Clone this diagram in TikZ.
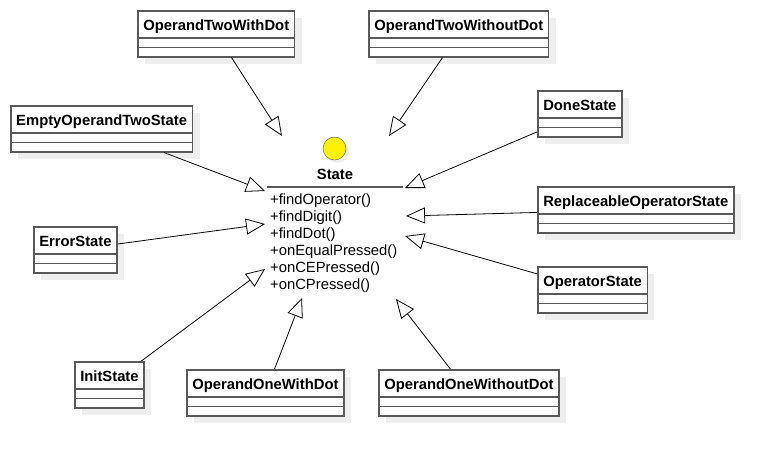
\documentclass[tikz,border=0pt]{standalone}
\usepackage{fontspec}
\setmainfont{Liberation Sans}
\usetikzlibrary{positioning,arrows.meta,shadows}

\definecolor{boxline}{HTML}{595959}
\definecolor{shadowgray}{HTML}{EEEEEE}

\begin{document}
\begin{tikzpicture}[x=1pt, y=-1pt, >={Triangle[open,length=19pt,width=16pt]},
	every class/.style={draw=boxline, line width=1.5pt, fill=white, anchor=north west,
		font=\fontsize{14.8}{17}\selectfont\bfseries, inner xsep=5.5pt, inner ysep=8pt,
		text height=11.3pt, text depth=18.7pt,
		drop shadow={shadow xshift=7pt, shadow yshift=-7pt, fill=shadowgray, opacity=1},
		path picture={
			\draw [boxline, line width=1.5pt]
			([yshift=-27pt]path picture bounding box.north west) -- ([yshift=-27pt]path picture bounding box.north east)
			([yshift=-36.5pt]path picture bounding box.north west) -- ([yshift=-36.5pt]path picture bounding box.north east);
		}},
	every link/.style={line width=0.8pt}]
	
	\useasboundingbox (0,0) rectangle (774,456);
	
	\foreach \n/\t/\x/\y in {twodot/OperandTwoWithDot/137/10, twonodot/OperandTwoWithoutDot/368/10,
		emptytwo/EmptyOperandTwoState/10/105, done/DoneState/537/90,
		replace/ReplaceableOperatorState/537/186, operator/OperatorState/537/266,
		error/ErrorState/33/226, init/InitState/74/361,
		onedot/OperandOneWithDot/186/369, onenodot/OperandOneWithoutDot/378/369}
	\node [every class/.try] (\n) at (\x,\y) {\t};
	
	% the State class
	\node [circle, draw=boxline, fill=yellow, minimum size=23pt, inner sep=0pt,
		drop shadow={shadow xshift=3pt, shadow yshift=-3pt, fill=shadowgray, opacity=1}]
	(state-icon) at (334.5,148.5) {};
	\node [anchor=base, font=\fontsize{14.8}{17}\selectfont\bfseries] (state-name) at (335,179) {State};
	\draw [boxline, line width=1.5pt] (267,187) -- (403,187);
	\node [anchor=north west, align=left, inner sep=0pt, font=\fontsize{14.8}{17}\selectfont]
	(state-ops) at (270,194) {+findOperator()\\+findDigit()\\+findDot()\\+onEqualPressed()\\+onCEPressed()\\+onCPressed()};
	
	\foreach \n/\x/\y in {twodot/282/136, twonodot/389/136, emptytwo/265/191, done/405/188,
		replace/406/216, operator/405/236, error/265/224, init/265/269,
		onedot/302/298, onenodot/396/299}
	\coordinate (tip-\n) at (\x,\y);
	
	\foreach \n in {twodot,twonodot,emptytwo,done,replace,operator,error,init,onedot,onenodot}
	\draw [every link/.try, ->] (\n) -- (tip-\n);
	
\end{tikzpicture}
\end{document}
